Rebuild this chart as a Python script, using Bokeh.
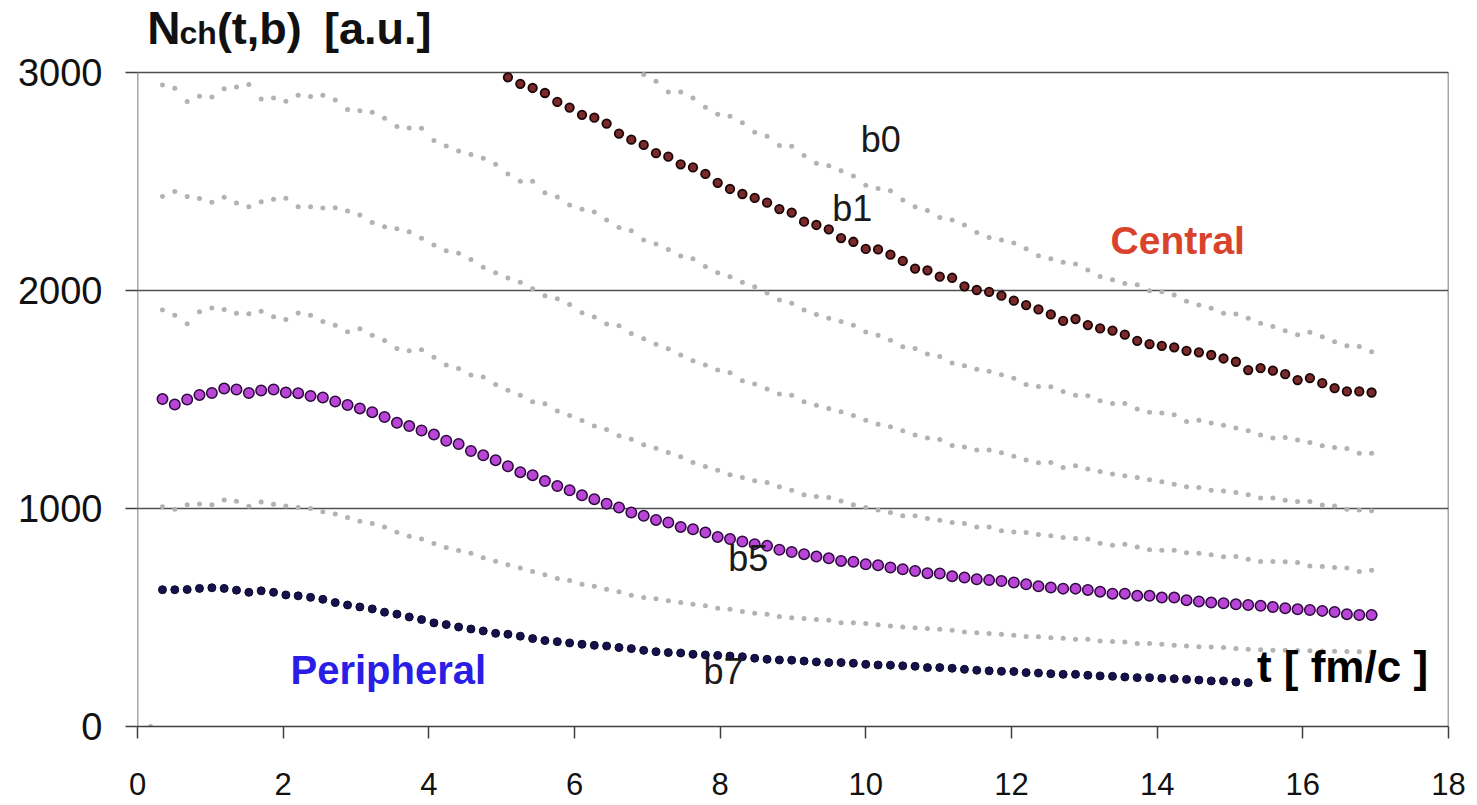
from bokeh.plotting import figure
from bokeh.models import Range1d, Label, FixedTicker
from bokeh.embed import file_html
from bokeh.resources import INLINE

# ---- data ----
# simulation time steps t [fm/c]
T = [round(0.343 + 0.1694 * i, 3) for i in range(99)]

X_TICKS = [0, 2, 4, 6, 8, 10, 12, 14, 16, 18]
Y_TICKS = [0, 1000, 2000, 3000]
Y_MAX = 3000
X_MAX = 18

# b0 : visible from step 39 on (earlier points above 3000)
B0_START = 39
b0 = [2989, 2958, 2909, 2909, 2881, 2839, 2807, 2797, 2768, 2724,
      2706, 2663, 2660, 2618, 2582, 2571, 2547, 2524, 2481, 2466,
      2456, 2414, 2383, 2365, 2333, 2322, 2299, 2264, 2242, 2230,
      2216, 2190, 2158, 2144, 2128, 2120, 2093, 2063, 2048, 2031,
      2025, 1998, 1993, 1978, 1949, 1932, 1917, 1894, 1891, 1871,
      1849, 1834, 1814, 1796, 1807, 1787, 1764, 1745, 1742, 1718]

# b1 (central, highlighted) : visible from step 28 on
B1_START = 28
b1 = [2976, 2946, 2927, 2904, 2863, 2837, 2804, 2791, 2764, 2718,
      2690, 2666, 2628, 2612, 2577, 2563, 2533, 2492, 2464, 2441,
      2423, 2401, 2372, 2356, 2314, 2299, 2279, 2239, 2222, 2189,
      2187, 2163, 2134, 2099, 2091, 2062, 2057, 2018, 2001, 1992,
      1975, 1952, 1932, 1912, 1889, 1859, 1868, 1840, 1825, 1815,
      1796, 1768, 1753, 1745, 1738, 1722, 1715, 1703, 1687, 1672,
      1634, 1643, 1631, 1615, 1588, 1597, 1574, 1551, 1536, 1536, 1531]

b2 = [2941, 2926, 2865, 2889, 2886, 2924, 2932, 2943, 2877, 2881,
      2866, 2894, 2888, 2894, 2872, 2828, 2823, 2816, 2788, 2750,
      2744, 2742, 2686, 2661, 2638, 2622, 2605, 2577, 2533, 2499,
      2499, 2447, 2427, 2391, 2371, 2359, 2322, 2288, 2273, 2230,
      2212, 2187, 2157, 2144, 2109, 2080, 2062, 2036, 2016, 1987,
      1955, 1940, 1909, 1889, 1872, 1856, 1839, 1808, 1793, 1771,
      1741, 1733, 1707, 1696, 1666, 1654, 1638, 1628, 1612, 1596,
      1568, 1559, 1557, 1536, 1519, 1516, 1493, 1481, 1481, 1455,
      1440, 1437, 1429, 1398, 1404, 1391, 1381, 1368, 1356, 1336,
      1322, 1325, 1313, 1302, 1287, 1279, 1274, 1253, 1253]

b3 = [2429, 2452, 2429, 2420, 2403, 2426, 2400, 2383, 2406, 2417,
      2421, 2383, 2383, 2377, 2378, 2363, 2345, 2310, 2291, 2282,
      2268, 2238, 2207, 2181, 2169, 2141, 2105, 2080, 2056, 2036,
      2007, 1975, 1961, 1935, 1897, 1877, 1845, 1837, 1802, 1778,
      1752, 1732, 1703, 1677, 1657, 1634, 1622, 1585, 1570, 1547,
      1524, 1519, 1489, 1473, 1458, 1443, 1426, 1404, 1385, 1374,
      1356, 1336, 1322, 1316, 1288, 1281, 1267, 1267, 1255, 1239,
      1222, 1209, 1210, 1187, 1195, 1180, 1169, 1157, 1149, 1141,
      1131, 1122, 1111, 1099, 1096, 1083, 1080, 1073, 1062, 1047,
      1047, 1037, 1031, 1031, 1015, 1011, 996, 993, 989]

b4 = [1909, 1885, 1846, 1901, 1918, 1912, 1894, 1892, 1903, 1878,
      1866, 1895, 1885, 1857, 1839, 1810, 1823, 1794, 1770, 1733,
      1722, 1727, 1693, 1657, 1641, 1611, 1602, 1568, 1541, 1518,
      1489, 1479, 1446, 1426, 1403, 1377, 1362, 1333, 1317, 1291,
      1276, 1256, 1236, 1210, 1192, 1175, 1154, 1141, 1126, 1118,
      1099, 1083, 1062, 1054, 1050, 1034, 1016, 1004, 992, 981,
      966, 966, 953, 946, 935, 930, 915, 915, 897, 892,
      889, 880, 874, 866, 862, 859, 840, 831, 836, 823,
      810, 808, 808, 797, 794, 787, 778, 779, 767, 756,
      756, 755, 752, 736, 733, 729, 726, 710, 716]

# b5 (highlighted, purple)
b5 = [1501, 1476, 1499, 1520, 1529, 1549, 1545, 1529, 1540, 1545,
      1531, 1528, 1515, 1508, 1490, 1474, 1458, 1441, 1419, 1392,
      1377, 1357, 1338, 1310, 1295, 1263, 1243, 1221, 1193, 1166,
      1152, 1125, 1102, 1083, 1060, 1042, 1021, 1004, 981, 966,
      947, 935, 915, 904, 889, 869, 859, 848, 836, 828,
      810, 800, 790, 779, 771, 759, 755, 744, 739, 729,
      721, 713, 703, 701, 689, 683, 675, 671, 667, 660,
      652, 643, 637, 632, 632, 626, 618, 609, 609, 599,
      599, 591, 591, 579, 573, 568, 565, 560, 557, 553,
      548, 542, 537, 534, 530, 525, 515, 511, 511]

b6 = [1007, 996, 1016, 1020, 1016, 1038, 1032, 1010, 1029, 1019,
      1011, 1004, 999, 984, 974, 958, 941, 930, 915, 891,
      872, 859, 839, 820, 807, 794, 773, 758, 741, 727,
      710, 696, 678, 669, 652, 643, 629, 618, 602, 591,
      586, 576, 568, 560, 553, 542, 537, 527, 519, 515,
      504, 499, 495, 490, 487, 476, 476, 472, 466, 461,
      456, 453, 449, 446, 441, 433, 430, 426, 423, 418,
      412, 411, 407, 404, 400, 400, 392, 390, 387, 380,
      380, 377, 372, 369, 366, 365, 362, 357, 354, 352,
      350, 349, 348, 347, 346, 345, 344, 343, 342]

# b7 (peripheral, highlighted) : ends earlier
b7 = [627, 627, 628, 633, 636, 633, 625, 615, 622, 615,
      603, 599, 592, 583, 568, 557, 548, 539, 524, 515,
      502, 490, 475, 467, 456, 447, 438, 427, 423, 414,
      403, 394, 389, 383, 377, 372, 369, 362, 357, 349,
      343, 339, 337, 331, 328, 326, 323, 320, 313, 308,
      305, 304, 300, 296, 293, 293, 290, 285, 282, 281,
      278, 276, 270, 270, 267, 262, 258, 255, 253, 252,
      247, 245, 242, 239, 239, 235, 232, 230, 227, 224,
      224, 221, 219, 216, 213, 209, 209, 204, 201]

# b8 : only one point visible near the origin
t8 = [0.18]
b8 = [0]

FONT = "Liberation Sans"
GRAY = "#b2b2b2"
FRAME = "#505050"

# the frame is extended above 3000 so that the axis title can sit inside it;
# the visible box (0..18 x 0..3000) is drawn as lines.
p = figure(width=1477, height=805, title=None,
           x_range=Range1d(0, X_MAX), y_range=Range1d(0, 3328),
           output_backend="svg", toolbar_location=None,
           min_border_left=137, min_border_right=29,
           min_border_top=0, min_border_bottom=79)

p.background_fill_color = "white"
p.border_fill_color = "white"
p.outline_line_color = None

p.xgrid.visible = False
p.ygrid.ticker = FixedTicker(ticks=[1000, 2000, 3000])
p.ygrid.grid_line_color = FRAME
p.ygrid.grid_line_width = 1.5

for ax in (p.xaxis[0], p.yaxis[0]):
    ax.axis_line_color = None
    ax.major_tick_line_color = "#404040"
    ax.major_tick_line_width = 1.5
    ax.major_tick_out = 12
    ax.major_tick_in = 0
    ax.minor_tick_out = 0
    ax.minor_tick_in = 0
    ax.major_label_text_font = FONT
    ax.major_label_text_color = "#111111"

p.xaxis.axis_line_color = "#404040"
p.xaxis.axis_line_width = 1.5
p.xaxis.ticker = FixedTicker(ticks=X_TICKS)
p.yaxis.ticker = FixedTicker(ticks=Y_TICKS)
p.xaxis.major_label_text_font_size = "31px"
p.yaxis.major_label_text_font_size = "38px"
p.xaxis.major_label_standoff = 34
p.yaxis.major_label_standoff = 23

# left axis line and right border of the box
p.segment(x0=[0, X_MAX], y0=[0, 0], x1=[0, X_MAX], y1=[Y_MAX, Y_MAX],
          line_color=FRAME, line_width=1.5)

# gray curves
for start, vals in ((B0_START, b0), (0, b2), (0, b3), (0, b4), (0, b6)):
    p.scatter(T[start:start + len(vals)], vals, size=5, marker="circle",
              fill_color=GRAY, line_color=None)
p.scatter(t8, b8, size=5, marker="circle", fill_color=GRAY, line_color=None)

# highlighted curves
p.scatter(T[B1_START:B1_START + len(b1)], b1, size=8.5, marker="circle",
          fill_color="#7a2a2a", line_color="#1c0505", line_width=1.8)
p.scatter(T[:len(b5)], b5, size=10.5, marker="circle",
          fill_color="#b845d6", line_color="#2d0a3d", line_width=1.5)
p.scatter(T[:len(b7)], b7, size=8, marker="circle",
          fill_color="#17124d", line_color="#0a0828", line_width=1.0)

def lab(x, y, text, size, color="#1a1a1a", style="normal"):
    p.add_layout(Label(x=x, y=y, text=text, text_font=FONT,
                       text_font_size=size, text_color=color,
                       text_font_style=style, text_baseline="alphabetic",
                       text_align="left"))

lab(9.93, 2690, "b0", "36px")
lab(9.54, 2374, "b1", "36px")
lab(8.11, 769, "b5", "36px")
lab(7.77, 250, "b7", "36px")
lab(13.36, 2227, "Central", "39px", "#d9432b", "bold")
lab(2.10, 258, "Peripheral", "40px", "#2a1de6", "bold")
lab(15.37, 273, "t [ fm/c ]", "44px", "#000000", "bold")

# y-axis title N_ch(t,b)  [a.u.]
lab(0.133, 3201, "N", "46px", "#111111", "bold")
lab(0.575, 3178, "ch", "32px", "#111111", "bold")
lab(1.09, 3201, "(t,b)", "45px", "#111111", "bold")
lab(2.56, 3201, "[a.u.]", "45px", "#111111", "bold")

open("out.html", "w").write(file_html(p, INLINE))
